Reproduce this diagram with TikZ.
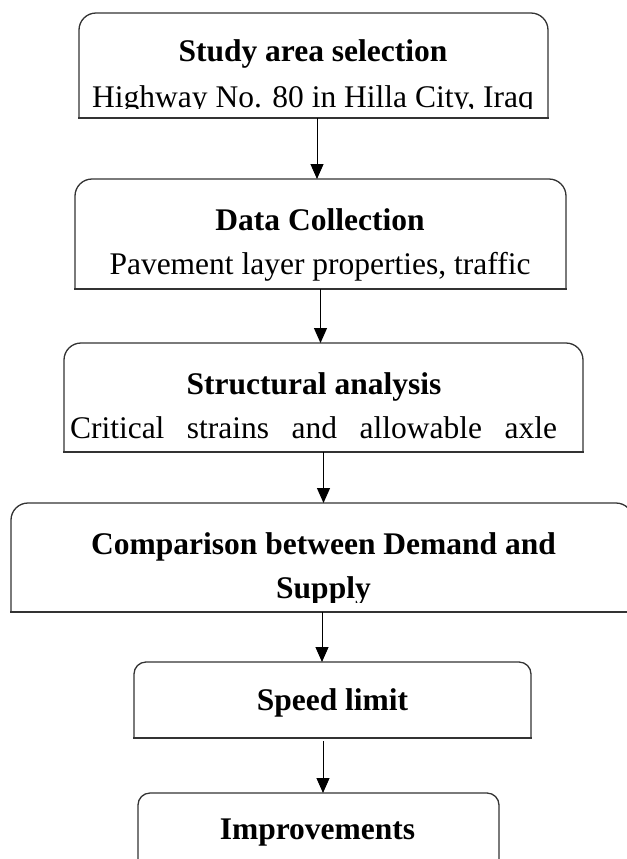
\documentclass[tikz,border=0pt]{standalone}
\usepackage{fontspec}
\setmainfont{Liberation Serif}
\usetikzlibrary{arrows.meta}
\tikzset{
	blockshape/.style={draw=none,inner sep=0pt,outer sep=0pt},
	boxline/.style={draw=black!80,line width=0.65pt,line cap=rect},
	headtext/.style={anchor=base,inner sep=0pt,font=\fontsize{15.75}{18}\selectfont\bfseries},
	bodytext/.style={anchor=base,inner sep=0pt,font=\fontsize{15.75}{18}\selectfont},
	flow/.style={draw=black,line width=0.5pt,-{Triangle[length=7.5pt,width=6.5pt]}}
}
\newcommand{\topround}[2]{%
	\draw[boxline,rounded corners=#2] (#1.south west) -- (#1.north west) -- (#1.north east) -- (#1.south east);
	\draw[boxline] (#1.south west) -- (#1.south east);}

\begin{document}
\begin{tikzpicture}[x=0.5pt,y=-0.5pt]
        \useasboundingbox (0,0) rectangle (627,859);
        \clip (0,0) rectangle (627,859);
        % boxes
        \node[blockshape,minimum width=234.5pt,minimum height=52.5pt] (study) at (313.5,65.5) {};
        \node[blockshape,minimum width=245.5pt,minimum height=55pt] (collect) at (320.5,234) {};
        \node[blockshape,minimum width=259.5pt,minimum height=54.5pt] (struct) at (323.5,397.5) {};
        \node[blockshape,minimum width=311pt,minimum height=54.5pt] (compare) at (322,557.5) {};
        \node[blockshape,minimum width=198.5pt,minimum height=38pt] (speed) at (332.5,700) {};
        \node[blockshape,minimum width=180.5pt,minimum height=55pt] (improve) at (318.5,848) {};
        \topround{study}{8.5pt}
        \topround{collect}{8.5pt}
        \topround{struct}{8.5pt}
        \topround{compare}{8.5pt}
        \topround{speed}{6pt}
        \topround{improve}{6pt}
        % texts
        \node[headtext] (studyhead) at (313,61) {Study area selection};
        \begin{scope}
            \clip (79,13) rectangle (548,108.5);
            \node[bodytext] (studybody) at (313,107) {Highway No. 80 in Hilla City, Iraq};
        \end{scope}
        \node[headtext] (collecthead) at (320,230) {Data Collection};
        \node[bodytext] (collectbody) at (320,274) {Pavement layer properties, traffic};
        \node[headtext] (structhead) at (314,394) {Structural analysis};
        \node[bodytext] (structbody) at (313.5,438) {\makebox[243.5pt][s]{Critical strains and allowable axle}};
        \node[headtext] (comparehead) at (323.5,554) {Comparison between Demand and};
        \begin{scope}
            \clip (11,503) rectangle (627,602.5);
            \node[headtext] (comparetail) at (323.5,598) {Supply};
        \end{scope}
        \node[headtext] (speedhead) at (332.5,710) {Speed limit};
        \node[headtext] (improvehead) at (317.5,839) {Improvements};
        % arrows
        \draw[flow] ([xshift=1.75pt]study.south) -- ([xshift=1.75pt]study.south |- collect.north);
        \draw[flow] (collect.south) -- (collect.south |- struct.north);
        \draw[flow] (struct.south) -- (struct.south |- compare.north);
        \draw[flow] (compare.south) -- (compare.south |- speed.north);
        \draw[flow,shorten <=1.5pt] ([xshift=-4.75pt]speed.south) -- ([xshift=-4.75pt]speed.south |- improve.north);
    \end{tikzpicture}
\end{document}
